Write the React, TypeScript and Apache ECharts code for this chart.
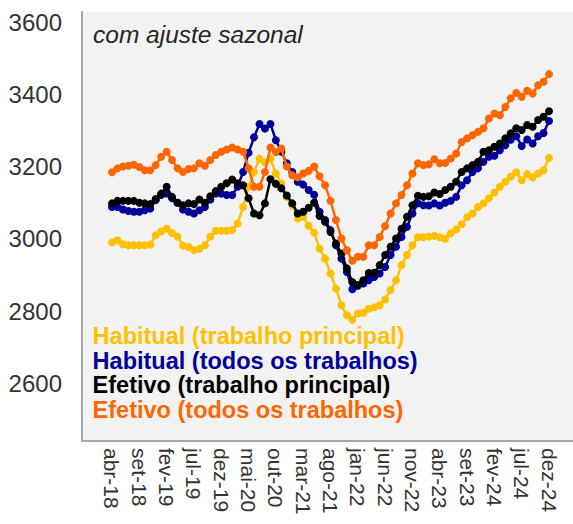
import React, { useEffect, useRef } from 'react';
import * as echarts from 'echarts';

// Monthly values, abr-18 .. dez-24 (81 months)
const habitualPrincipal = [
  2990, 2996, 2985, 2982, 2982, 2982, 2982, 2984, 3010, 3020,
  3028, 3016, 3006, 2981, 2977, 2969, 2972, 2982, 3006, 3022,
  3022, 3022, 3024, 3042, 3088, 3144, 3185, 3222, 3212, 3222,
  3181, 3153, 3116, 3093, 3056, 3061, 3036, 3017, 2973, 2945,
  2904, 2862, 2816, 2788, 2776, 2793, 2795, 2806, 2810, 2816,
  2832, 2858, 2885, 2927, 2955, 2982, 3004, 3004, 3006, 3008,
  3004, 3000, 3015, 3026, 3040, 3060, 3070, 3088, 3098, 3112,
  3128, 3144, 3158, 3172, 3184, 3162, 3179, 3170, 3181, 3190, 3224,
];

const habitualTodos = [
  3088, 3088, 3081, 3077, 3075, 3075, 3079, 3084, 3107, 3121,
  3125, 3112, 3100, 3081, 3075, 3070, 3079, 3088, 3109, 3125,
  3125, 3121, 3121, 3144, 3185, 3238, 3281, 3318, 3305, 3318,
  3273, 3241, 3209, 3185, 3158, 3150, 3135, 3122, 3075, 3052,
  3024, 2982, 2945, 2908, 2860, 2870, 2876, 2885, 2894, 2904,
  2922, 2955, 2978, 3005, 3033, 3070, 3098, 3093, 3092, 3098,
  3092, 3100, 3105, 3116, 3148, 3162, 3185, 3195, 3213, 3227,
  3230, 3245, 3259, 3274, 3284, 3257, 3275, 3264, 3284, 3293, 3326,
];

const efetivoPrincipal = [
  3098, 3105, 3105, 3105, 3105, 3100, 3098, 3096, 3110, 3125,
  3144, 3116, 3100, 3093, 3098, 3096, 3109, 3100, 3118, 3132,
  3144, 3154, 3164, 3154, 3148, 3112, 3070, 3065, 3098, 3165,
  3152, 3140, 3120, 3098, 3070, 3075, 3086, 3100, 3063, 3047,
  3019, 2987, 2959, 2918, 2880, 2872, 2885, 2905, 2906, 2927,
  2955, 2978, 3001, 3028, 3061, 3093, 3119, 3116, 3118, 3128,
  3124, 3135, 3144, 3158, 3185, 3195, 3204, 3213, 3241, 3245,
  3255, 3264, 3278, 3292, 3306, 3301, 3315, 3310, 3329, 3338, 3353,
];

const efetivoTodos = [
  3184, 3195, 3200, 3202, 3205, 3199, 3190, 3190, 3204, 3227,
  3241, 3218, 3195, 3185, 3193, 3195, 3209, 3202, 3218, 3232,
  3241, 3247, 3253, 3247, 3241, 3195, 3144, 3144, 3185, 3253,
  3240, 3250, 3200, 3176, 3170, 3181, 3188, 3200, 3173, 3148,
  3105, 3052, 3001, 2968, 2939, 2950, 2950, 2982, 2982, 3005,
  3035, 3070, 3098, 3121, 3148, 3181, 3209, 3204, 3206, 3220,
  3209, 3210, 3222, 3236, 3268, 3278, 3287, 3296, 3306, 3333,
  3347, 3342, 3365, 3389, 3404, 3393, 3410, 3402, 3425, 3435, 3456,
];

// one tick label every 5 months
const xTickLabels = [
  'abr-18', 'set-18', 'fev-19', 'jul-19', 'dez-19', 'mai-20', 'out-20', 'mar-21',
  'ago-21', 'jan-22', 'jun-22', 'nov-22', 'abr-23', 'set-23', 'fev-24', 'jul-24', 'dez-24',
];
const yTickValues = [2600, 2800, 3000, 3200, 3400, 3600];

const seriesNames = [
  'Habitual (trabalho principal)',
  'Habitual (todos os trabalhos)',
  'Efetivo (trabalho principal)',
  'Efetivo (todos os trabalhos)',
];
const seriesColors = ['#FFC000', '#00009C', '#000000', '#FF6600'];

export default function App() {
  const ref = useRef<HTMLDivElement>(null);

  useEffect(() => {
    if (!ref.current) return;
    const chart = echarts.init(ref.current, null, { renderer: 'svg' });
    const font = "'Liberation Sans', Arial, sans-serif";
    const allData = [habitualPrincipal, habitualTodos, efetivoPrincipal, efetivoTodos];

    chart.setOption({
      animation: false,
      backgroundColor: '#ffffff',
      textStyle: { fontFamily: font },
      title: {
        text: 'com ajuste sazonal',
        left: 93,
        top: 22,
        padding: 0,
        textStyle: {
          fontFamily: font,
          fontSize: 24.5,
          fontStyle: 'italic',
          fontWeight: 'normal',
          color: '#262626',
        },
      },
      legend: {
        orient: 'vertical',
        left: 78,
        top: 324,
        padding: 0,
        itemGap: 0,
        itemWidth: 0,
        itemHeight: 24,
        itemStyle: { opacity: 0 },
        lineStyle: { opacity: 0 },
        selectedMode: false,
        data: seriesNames.map((n, k) => ({
          name: n,
          textStyle: { color: seriesColors[k] },
        })),
        textStyle: {
          fontFamily: font,
          fontSize: 23.5,
          fontWeight: 'bold',
          lineHeight: 24.5,
          padding: 0,
        },
      },
      grid: {
        left: 82,
        right: 0,
        top: 12,
        bottom: 83,
        show: true,
        backgroundColor: '#f2f2f2',
        borderWidth: 0,
      },
      xAxis: {
        type: 'value',
        min: -5.49,
        max: 84.39,
        axisLine: { show: true, onZero: false, lineStyle: { color: '#a6a6a6', width: 2 } },
        axisTick: { show: false },
        splitLine: { show: false },
        axisLabel: {
          customValues: xTickLabels.map((_, k) => k * 5),
          formatter: (v: number) => xTickLabels[Math.round(v / 5)] ?? '',
          rotate: -90,
          margin: 7,
          fontSize: 21,
          color: '#333333',
          fontFamily: font,
        },
      },
      yAxis: {
        type: 'value',
        min: 2440,
        max: 3628,
        axisLine: { show: true, onZero: false, lineStyle: { color: '#a6a6a6', width: 2 } },
        axisTick: { show: false },
        splitLine: { show: false },
        axisLabel: {
          customValues: yTickValues,
          formatter: (v: number) => String(Math.round(v)),
          margin: 20,
          fontSize: 24,
          color: '#333333',
          fontFamily: font,
        },
      },
      series: allData.map((arr, k) => ({
        name: seriesNames[k],
        type: 'line',
        data: arr.map((v, i) => [i, v]),
        symbol: 'circle',
        symbolSize: 8,
        showSymbol: true,
        color: seriesColors[k],
        lineStyle: { color: seriesColors[k], width: 2.5 },
        itemStyle: { color: seriesColors[k] },
        z: 2 + k,
      })),
    });

    return () => {
      chart.dispose();
    };
  }, []);

  return (
    <div
      ref={ref}
      style={{ position: 'fixed', left: 0, top: 0, width: 573, height: 524 }}
    />
  );
}
